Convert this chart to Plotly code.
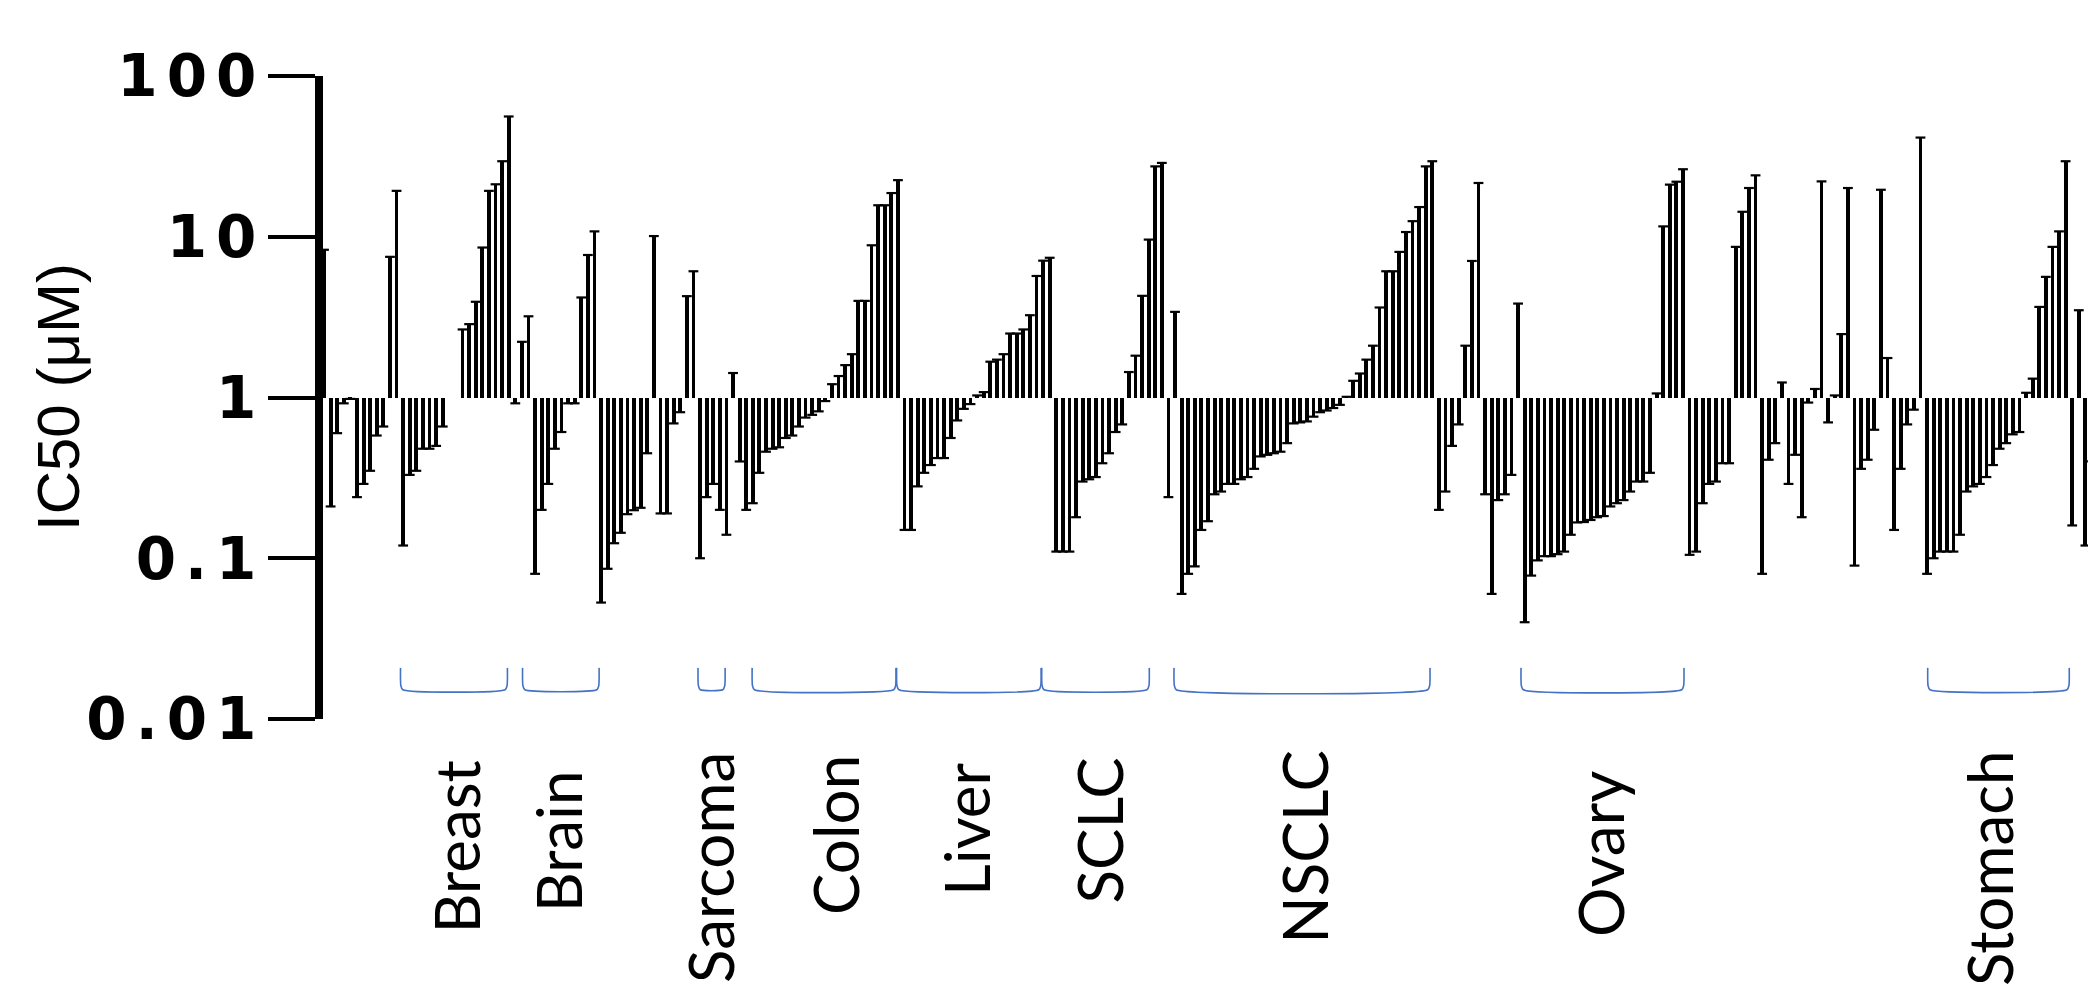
import plotly.graph_objects as go

# ---------------- data ----------------
# IC50 values (µM) per cell line, left to right; None = empty slot
ic50 = [
    8.3, 0.21, 0.60, 0.92, 0.98, 0.24, 0.29, 0.35, 0.58, 0.66,
    7.5, 19.3, 0.12, 0.33, 0.35, 0.48, 0.48, 0.50, 0.66,
    None, None,
    2.65, 2.86, 3.94, 8.57, 19.3, 21.2, 29.5, 56, 0.92, 2.22,
    3.2, 0.080, 0.20, 0.29, 0.48, 0.61, 0.92, 0.92, 4.19, 7.7,
    10.8, 0.053, 0.086, 0.124, 0.144, 0.188, 0.199, 0.206, 0.45, 10.1,
    0.19, 0.19, 0.69, 0.81, 4.27, 6.1, 0.10, 0.24, 0.29, 0.20,
    0.14, 1.42, 0.40, 0.20, 0.22, 0.34, 0.46, 0.48, 0.49, 0.56,
    0.58, 0.66, 0.75, 0.78, 0.82, 0.95, 1.21, 1.36, 1.59, 1.86,
    3.99, 3.99, 8.85, 15.7, 15.7, 18.7, 22.5, 0.15, 0.15, 0.28,
    0.34, 0.38, 0.42, 0.42, 0.56, 0.72, 0.85, 0.91, 1.03, 1.08,
    1.67, 1.72, 1.86, 2.5, 2.5, 2.65, 3.25, 5.7, 7.1, 7.4,
    0.11, 0.11, 0.11, 0.18, 0.30, 0.31, 0.32, 0.39, 0.45, 0.61,
    0.68, 1.44, 1.82, 4.29, 9.6, 27.4, 28.8, 0.24, 3.41, 0.060,
    0.080, 0.089, 0.15, 0.17, 0.25, 0.26, 0.29, 0.29, 0.31, 0.32,
    0.36, 0.43, 0.44, 0.45, 0.46, 0.52, 0.69, 0.70, 0.71, 0.76,
    0.81, 0.83, 0.86, 0.90, 1.01, 1.27, 1.41, 1.72, 2.1, 3.63,
    6.1, 6.1, 8.05, 10.7, 12.5, 15.3, 27.4, 29.5, 0.20, 0.26,
    0.50, 0.68, 2.1, 7.07, 21.6, 0.25, 0.060, 0.23, 0.25, 0.33,
    3.84, 0.040, 0.078, 0.097, 0.103, 0.103, 0.106, 0.11, 0.14, 0.167,
    0.168, 0.173, 0.18, 0.183, 0.21, 0.22, 0.23, 0.26, 0.30, 0.30,
    0.34, 1.06, 11.6, 21.1, 22.0, 26.3, 0.105, 0.11, 0.22, 0.29,
    0.30, 0.39, 0.39, 8.65, 14.3, 20.1, 24.1, 0.080, 0.41, 0.52,
    1.24, 0.29, 0.44, 0.18, 0.93, 1.13, 22.1, 0.70, 1.03, 2.48,
    20.1, 0.090, 0.36, 0.41, 0.63, 19.6, 1.76, 0.15, 0.36, 0.68,
    0.84, 41.4, 0.080, 0.10, 0.11, 0.11, 0.11, 0.14, 0.26, 0.28,
    0.29, 0.32, 0.38, 0.48, 0.52, 0.59, 0.61, 1.07, 1.31, 3.66,
    5.63, 8.65, 10.8, 29.5, 0.16, 3.49, 0.12, 0.40,
]
slots = list(range(len(ic50)))

# tumour-type groups: first / last slot covered by each bracket
groups = ["Breast", "Brain", "Sarcoma", "Colon", "Liver", "SCLC", "NSCLC", "Ovary", "Stomach"]
group_start = [11.6, 30.1, 56.7, 64.9, 86.8, 108.8, 128.85, 181.45, 243.1]
group_end = [27.8, 41.7, 60.8, 86.7, 108.7, 125.1, 167.65, 206.15, 264.55]

tick_vals = [0.01, 0.1, 1, 10, 100]
tick_text = ["0.01", "0.1", "1", "10", "100"]

# ---------------- layout geometry ----------------
# screen pixel positions measured on the reference; the page body has an 8px margin
OFF = 8
SCREEN_W, SCREEN_H = 2096, 985
W, H = SCREEN_W - OFF, SCREEN_H - OFF
PLOT_LEFT, TOP_Y, BOT_Y = 323, 76, 719       # screen px (axis line sits just left of PLOT_LEFT)
L, T = PLOT_LEFT - OFF, TOP_Y - OFF
B = H - (BOT_Y - OFF)
PW, PH = W - L, H - T - B
SLOT0_PX, SLOT_PX = 324.0, 6.597             # screen px of slot 0, px per slot

label_px_x = [455, 557.5, 710, 835, 966, 1099, 1304, 1600, 1989]
label_px_y = [847.5, 841.7, 868, 835, 829, 830.6, 846.7, 854, 869]


def px_to_paper_x(px):
    return (px - OFF - L) / PW


def px_to_paper_y(py):
    return (H - B - (py - OFF)) / PH


def wide_tick(t):
    # widen the bold tick digits (spacing only between characters)
    return "<span style='letter-spacing:9px'>%s</span>%s" % (t[:-1], t[-1])


fig = go.Figure()

# bars from 1 to the IC50 value
bar_x = [s for s, v in zip(slots, ic50) if v is not None]
bar_v = [v for v in ic50 if v is not None]
fig.add_trace(go.Bar(
    x=bar_x,
    y=[v - 1 for v in bar_v],
    base=1,
    width=0.58,
    marker=dict(color="black", line=dict(width=0)),
    hoverinfo="skip",
    showlegend=False,
))
# caps at the bar ends
fig.add_trace(go.Scatter(
    x=bar_x,
    y=bar_v,
    mode="markers",
    marker=dict(symbol="line-ew", size=7, line=dict(width=2.2, color="black")),
    hoverinfo="skip",
    showlegend=False,
))

# blue group brackets
y_top, y_bot = 0.0208, 0.0152
for s0, s1 in zip(group_start, group_end):
    dx = min(0.35, (s1 - s0) * 0.1)
    fig.add_trace(go.Scatter(
        x=[s0, s0 + dx * 0.15, s0 + dx, s1 - dx, s1 - dx * 0.15, s1],
        y=[y_top, y_bot * 1.06, y_bot, y_bot, y_bot * 1.06, y_top],
        mode="lines",
        line=dict(color="#4472C4", width=1.6, shape="spline", smoothing=0.6),
        hoverinfo="skip",
        showlegend=False,
    ))

annotations = []
for name, lx, ly in zip(groups, label_px_x, label_px_y):
    annotations.append(dict(
        text=name, x=px_to_paper_x(lx), y=px_to_paper_y(ly),
        xref="paper", yref="paper", xanchor="center", yanchor="middle",
        textangle=-90, showarrow=False,
        font=dict(family="Lato", size=62, color="black"),
    ))
annotations.append(dict(
    text="IC50 (μM)", x=px_to_paper_x(59), y=px_to_paper_y(397),
    xref="paper", yref="paper", xanchor="center", yanchor="middle",
    textangle=-90, showarrow=False,
    font=dict(family="Liberation Sans", size=60, color="black"),
))

fig.update_layout(
    width=W, height=H,
    margin=dict(l=L, r=0, t=T, b=B, pad=0),
    paper_bgcolor="white", plot_bgcolor="white",
    bargap=0,
    annotations=annotations,
    xaxis=dict(
        range=[(PLOT_LEFT - SLOT0_PX) / SLOT_PX, (SCREEN_W - SLOT0_PX) / SLOT_PX],
        visible=False, showgrid=False, zeroline=False,
    ),
    yaxis=dict(
        type="log", range=[-2, 2],
        tickvals=tick_vals,
        ticktext=[wide_tick(t) for t in tick_text],
        showline=True, linewidth=8, linecolor="black",
        ticks="outside", ticklen=47, tickwidth=4, tickcolor="black",
        ticklabelstandoff=0,
        tickfont=dict(family="DejaVu Sans", size=58, color="black", weight="bold"),
        showgrid=False, zeroline=False,
    ),
)

fig.write_html("out.html")
